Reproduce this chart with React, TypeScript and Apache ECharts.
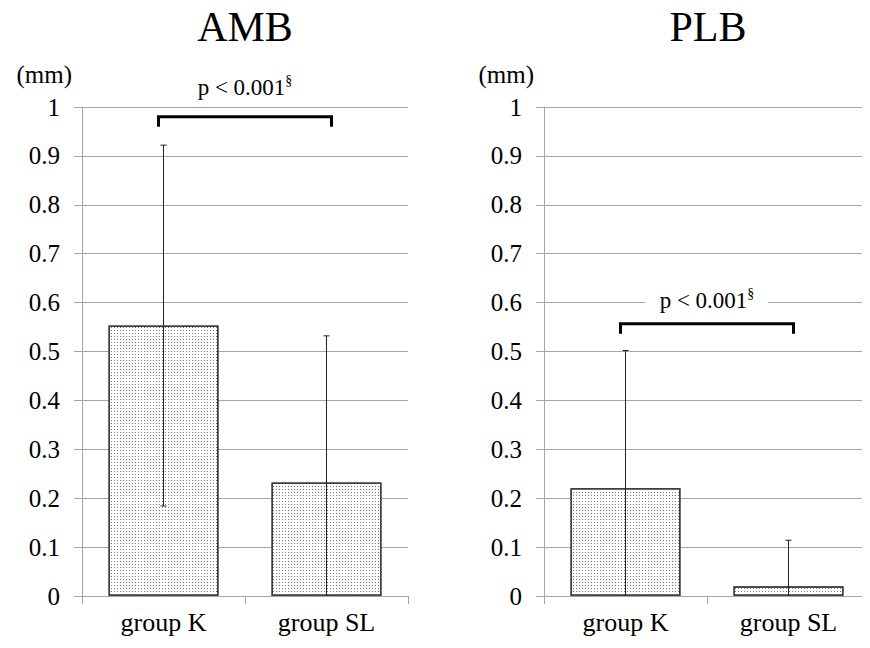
import React, { useEffect, useRef } from "react";
import * as echarts from "echarts";

const categories = ["group K", "group SL"];
const yTicks = [0, 0.1, 0.2, 0.3, 0.4, 0.5, 0.6, 0.7, 0.8, 0.9, 1];

const ambMean = [0.553, 0.232];
const ambUpper = [0.922, 0.532];
const ambLower = [0.184, -0.068];

const plbMean = [0.221, 0.02];
const plbUpper = [0.502, 0.114];
const plbLower = [-0.06, -0.074];

// bracket: [from category, to category, bracket value, label value]
const ambBracket = [[0, 1, 0.98, 1.04]];
const plbBracket = [[0, 1, 0.557, 0.605]];
const pLabel = "p < 0.001";
const titles = ["AMB", "PLB"];

const FONT = "Liberation Serif";

export default function App() {
  const ref = useRef<HTMLDivElement>(null);
  useEffect(() => {
    if (!ref.current) return;
    const chart = echarts.init(ref.current, null, { renderer: "svg" });

    const grids = [
      { left: 82, top: 107, width: 326, height: 489 },
      { left: 544, top: 107, width: 326, height: 489 },
    ];

    const xAxis = [0, 1].map((i) => ({
      type: "category",
      gridIndex: i,
      data: categories,
      axisLine: { lineStyle: { color: "#a6a6a6", width: 1 } },
      axisTick: { show: true, length: 8, lineStyle: { color: "#a6a6a6" } },
      axisLabel: { color: "#000", fontSize: 26, fontFamily: FONT, margin: 13 },
    }));

    const yAxis = [0, 1].map((i) => ({
      type: "value",
      gridIndex: i,
      min: 0,
      max: 1,
      interval: 0.1,
      name: "(mm)",
      nameLocation: "end",
      nameGap: 20,
      nameTextStyle: {
        color: "#000",
        fontSize: 25,
        fontFamily: FONT,
        align: "right",
        padding: [0, 10, 0, 0],
      },
      axisLine: { show: true, lineStyle: { color: "#a6a6a6", width: 1 } },
      axisTick: { show: true, length: 8, lineStyle: { color: "#a6a6a6" } },
      axisLabel: {
        color: "#000",
        fontSize: 25,
        fontFamily: FONT,
        margin: 22,
        formatter: (v: number) => {
          const t = yTicks.find((x) => Math.abs(x - v) < 1e-6);
          return t === undefined ? "" : String(t);
        },
      },
      splitLine: { show: true, lineStyle: { color: "#a6a6a6", width: 1 } },
    }));

    const decal = {
      symbol: "rect",
      symbolSize: 1,
      color: "#777",
      dashArrayX: [1, 2],
      dashArrayY: [1, 2],
      rotation: 0,
    };

    const barSeries = (data: number[], i: number) => ({
      type: "bar",
      xAxisIndex: i,
      yAxisIndex: i,
      data,
      barWidth: 110,
      itemStyle: {
        color: "#fff",
        borderColor: "#404040",
        borderWidth: 1.5,
        decal,
      },
      z: 2,
    });

    const errSeries = (mean: number[], up: number[], lo: number[], i: number) => ({
      type: "custom",
      xAxisIndex: i,
      yAxisIndex: i,
      z: 3,
      data: mean.map((m, k) => [k, up[k], Math.max(0, lo[k]), m]),
      renderItem: (params: any, api: any) => {
        const idx = api.value(0);
        const top = api.coord([idx, api.value(1)]);
        const bot = api.coord([idx, api.value(2)]);
        const children: any[] = [
          {
            type: "line",
            shape: { x1: top[0], y1: top[1], x2: bot[0], y2: bot[1] },
            style: { stroke: "#222", lineWidth: 1 },
          },
          {
            type: "line",
            shape: { x1: top[0] - 3, y1: top[1], x2: top[0] + 3, y2: top[1] },
            style: { stroke: "#222", lineWidth: 1 },
          },
        ];
        if (api.value(2) > 0) {
          children.push({
            type: "line",
            shape: { x1: bot[0] - 3, y1: bot[1], x2: bot[0] + 3, y2: bot[1] },
            style: { stroke: "#222", lineWidth: 1 },
          });
        }
        return { type: "group", children };
      },
    });

    const bracketSeries = (data: number[][], i: number) => ({
      type: "custom",
      xAxisIndex: i,
      yAxisIndex: i,
      z: 4,
      clip: false,
      data,
      renderItem: (params: any, api: any) => {
        const a = api.coord([api.value(0), api.value(2)]);
        const b = api.coord([api.value(1), api.value(2)]);
        const t = api.coord([(api.value(0) + api.value(1)) / 2, api.value(3)]);
        const midX = (a[0] + b[0]) / 2;
        return {
          type: "group",
          children: [
            {
              type: "polyline",
              shape: {
                points: [
                  [a[0] - 5, a[1] + 10],
                  [a[0] - 5, a[1]],
                  [b[0] + 5, b[1]],
                  [b[0] + 5, b[1] + 10],
                ],
              },
              style: { stroke: "#000", lineWidth: 3, fill: null },
            },
            {
              type: "text",
              x: midX,
              y: t[1],
              style: {
                text: "{m|" + pLabel + "}{s|§}",
                align: "center",
                verticalAlign: "middle",
                backgroundColor: "#fff",
                padding: [2, 14, 2, 14],
                fontSize: 23,
                fontFamily: FONT,
                rich: {
                  m: { fontSize: 23, fontFamily: FONT, fill: "#000", lineHeight: 28 },
                  s: {
                    fontSize: 14,
                    fontFamily: FONT,
                    fill: "#000",
                    verticalAlign: "top",
                    lineHeight: 28,
                    padding: [0, 0, 10, 0],
                  },
                },
              },
            },
          ],
        };
      },
    });

    chart.setOption({
      animation: false,
      backgroundColor: "#fff",
      textStyle: { fontFamily: FONT, fontSize: 25, color: "#000" },
      grid: grids,
      xAxis,
      yAxis,
      graphic: [
        {
          type: "text",
          x: 245,
          y: 27,
          style: {
            text: titles[0],
            fontSize: 42,
            fontFamily: FONT,
            fill: "#000",
            align: "center",
            verticalAlign: "middle",
          },
        },
        {
          type: "text",
          x: 708,
          y: 27,
          style: {
            text: titles[1],
            fontSize: 42,
            fontFamily: FONT,
            fill: "#000",
            align: "center",
            verticalAlign: "middle",
          },
        },
      ],
      series: [
        barSeries(ambMean, 0),
        barSeries(plbMean, 1),
        errSeries(ambMean, ambUpper, ambLower, 0),
        errSeries(plbMean, plbUpper, plbLower, 1),
        bracketSeries(ambBracket, 0),
        bracketSeries(plbBracket, 1),
      ],
    });
    return () => chart.dispose();
  }, []);

  return <div ref={ref} style={{ width: 870, height: 648, margin: -8 }} />;
}
